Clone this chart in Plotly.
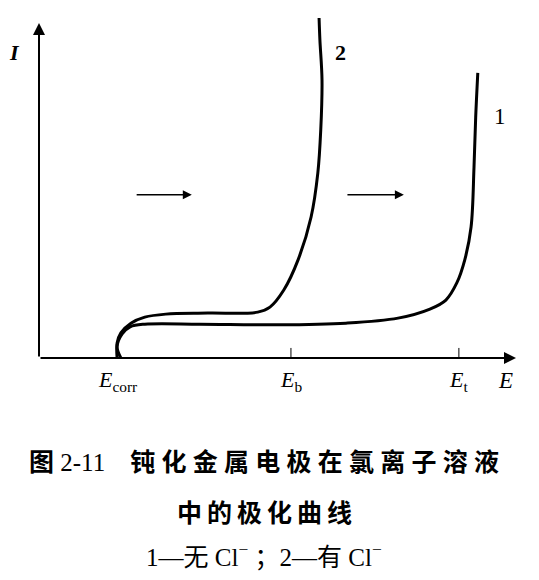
import plotly.graph_objects as go

# curve 1: no Cl- ; curve 2: with Cl-  (arbitrary units)
E_curve1 = [1.95, 1.86, 1.98, 2.17, 2.52, 3.83, 5.67, 7.31, 8.55, 9.31, 9.69, 9.95, 10.14, 10.29, 10.36, 10.40, 10.45]
I_curve1 = [0.00, 0.33, 0.72, 0.93, 1.01, 1.01, 0.99, 1.04, 1.19, 1.46, 1.73, 2.24, 2.93, 3.91, 5.70, 7.19, 8.51]

E_curve2 = [1.86, 1.86, 1.95, 2.19, 2.52, 3.02, 4.02, 5.21, 5.50, 5.83, 6.17, 6.48, 6.64, 6.71, 6.74, 6.69, 6.67]
I_curve2 = [0.00, 0.45, 0.75, 1.04, 1.22, 1.31, 1.34, 1.37, 1.52, 2.03, 2.93, 4.21, 5.52, 6.81, 8.30, 9.49, 10.15]

E_marks = [1.88, 6.0, 10.0]
E_mark_labels = ["<i>E</i><sub>corr</sub>", "<i>E</i><sub>b</sub>", "<i>E</i><sub>t</sub>"]

E_max = 11.36
I_max = 10.0

serif = "Liberation Serif"
cap_font = "Liberation Serif, Noto Sans CJK SC"

fig = go.Figure()
for E, I in [(E_curve1, I_curve1), (E_curve2, I_curve2)]:
    fig.add_trace(go.Scatter(x=E, y=I, mode="lines",
                             line=dict(color="black", width=3, shape="spline"),
                             hoverinfo="skip", showlegend=False))

ann = []
# axes with arrows
ann.append(dict(x=E_max, y=0, ax=0, ay=0, xref="x", yref="y", axref="x", ayref="y",
                showarrow=True, arrowhead=2, arrowsize=1.2, arrowwidth=2, arrowcolor="black", text=""))
ann.append(dict(x=0, y=I_max, ax=0, ay=0, xref="x", yref="y", axref="x", ayref="y",
                showarrow=True, arrowhead=2, arrowsize=1.2, arrowwidth=2, arrowcolor="black", text=""))
# direction arrows
for x0, x1 in [(2.29, 3.64), (7.31, 8.69)]:
    ann.append(dict(x=x1, y=4.87, ax=x0, ay=4.87, xref="x", yref="y", axref="x", ayref="y",
                    showarrow=True, arrowhead=2, arrowsize=1.2, arrowwidth=1.5, arrowcolor="black", text=""))

def label(x, y, text, size, xref="paper", yref="paper", family=serif):
    ann.append(dict(x=x, y=y, xref=xref, yref=yref, text=text, showarrow=False,
                    xanchor="center", yanchor="middle",
                    font=dict(family=family, size=size, color="black")))

# axis labels
label(-0.052, 0.892, "<i><b>I</b></i>", 22)
label(0.979, -0.067, "<i>E</i>", 23)
for e, lab in zip(E_marks, E_mark_labels):
    label(e, -0.067, lab, 22, xref="x")
label(7.19, 9.13, "<b>2</b>", 22, xref="x", yref="y")
label(10.98, 7.22, "1", 23, xref="x", yref="y")

# caption (narrow spaces widen the character pitch as in the printed figure)
sp = "\u2005"
label(0.472, -0.306, "<b>图</b> 2-11　<b>" + sp.join("钝化金属电极在氯离子溶液") + "</b>", 25, family=cap_font)
label(0.472, -0.452, "<b>" + "\u2009".join("中的极化曲线") + "</b>", 25, family=cap_font)
label(0.472, -0.574, "1—无 Cl<sup>−</sup> ；2—有 Cl<sup>−</sup>", 25, family=cap_font)

# small ticks at E_b and E_t
shapes = [dict(type="line", x0=e, x1=e, y0=0, y1=0.3, xref="x", yref="y",
               line=dict(color="black", width=1)) for e in E_marks[1:]]

fig.update_layout(
    width=539, height=580,
    margin=dict(l=31, r=31, t=7, b=230),
    paper_bgcolor="white", plot_bgcolor="white",
    xaxis=dict(range=[0, E_max], visible=False),
    yaxis=dict(range=[0, 10.24], visible=False),
    annotations=ann, shapes=shapes,
)

fig.write_html("out.html")
